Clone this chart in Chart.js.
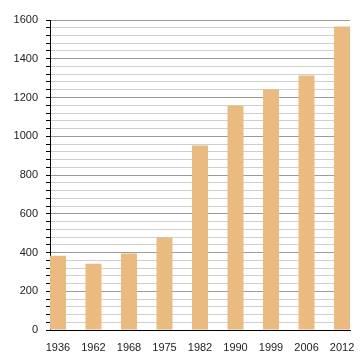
<!DOCTYPE html>
<html>
<head>
<meta charset="utf-8">
<script src="https://cdn.jsdelivr.net/npm/chart.js@4/dist/chart.umd.min.js"></script>
<style>
  html, body { margin: 0; padding: 0; background: #fff; }
  #wrap { width: 360px; height: 360px; }
</style>
</head>
<body>
<div id="wrap"><canvas id="myChart" width="360" height="360"></canvas></div>
<script>
const years = ['1936', '1962', '1968', '1975', '1982', '1990', '1999', '2006', '2012'];
const population = [383, 342, 395, 477, 952, 1157, 1241, 1314, 1566];
const yTicks = [0, 200, 400, 600, 800, 1000, 1200, 1400, 1600];

const half = 0.225;
const barColor = '#e9bb80';

const ctx = document.querySelector('#myChart').getContext('2d');
const myChart = new Chart(ctx, {
    type: 'bar',
    data: {
        datasets: [{
            data: years.map((y, i) => ({ x: i, y: population[i] })),
            backgroundColor: barColor,
            borderWidth: 0,
            barPercentage: 0.45,
            categoryPercentage: 1
        }]
    },
    options: {
        responsive: false,
        animation: false,
        layout: { padding: { top: 20, right: 10, bottom: 0, left: 0 } },
        plugins: { legend: { display: false }, tooltip: { enabled: false } },
        scales: {
            x: {
                type: 'linear',
                offset: false,
                min: -half,
                max: years.length - 1 + half,
                grid: { display: false },
                border: { color: '#000', width: 1 },
                ticks: {
                    stepSize: 1,
                    includeBounds: false,
                    autoSkip: false,
                    maxRotation: 0,
                    padding: 3,
                    color: '#222',
                    font: { family: 'Liberation Sans', size: 11 },
                    callback: v => Number.isInteger(v) ? years[v] : ''
                },
                afterFit: s => { s.height = 30; }
            },
            y: {
                min: 0,
                max: 1600,
                grid: {
                    color: c => c.tick && c.tick.value % 200 === 0 ? '#9a9a9a' : '#cfcfcf',
                    tickColor: '#000',
                    tickLength: 4
                },
                border: { color: '#000', width: 1 },
                ticks: {
                    stepSize: 40,
                    autoSkip: false,
                    padding: 8,
                    color: '#222',
                    font: { family: 'Liberation Sans', size: 11 },
                    callback: v => yTicks.includes(v) ? String(v) : ''
                },
                afterFit: s => { s.width = 50; }
            }
        }
    }
});
</script>
</body>
</html>
